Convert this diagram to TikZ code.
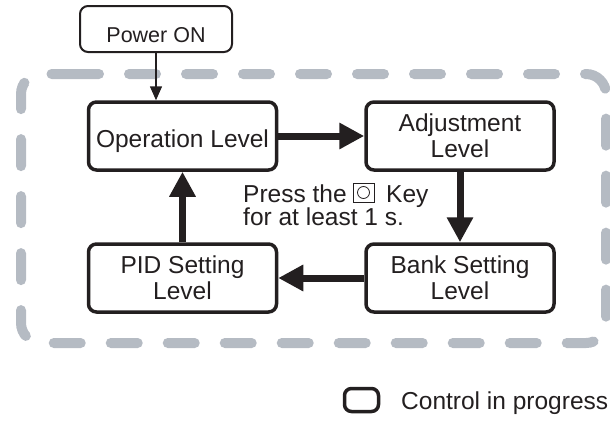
\documentclass[tikz,border=0pt]{standalone}
\usepackage{fontspec}
\setmainfont{Liberation Sans}
\usetikzlibrary{arrows.meta}
\definecolor{framegray}{RGB}{181,187,195}
\definecolor{ink}{RGB}{35,31,32}
\begin{document}
\begin{tikzpicture}[x=1pt,y=-1pt,
  lvl/.style={draw=ink, line width=3.5pt, rounded corners=8pt,
    minimum width=188pt, minimum height=68pt, align=center, inner sep=0pt,
    text=ink, font=\fontsize{24.5}{26}\selectfont},
  startbox/.style={draw=ink, line width=2pt, rounded corners=8pt,
    minimum width=152pt, minimum height=46pt, inner sep=0pt,
    text=ink, font=\fontsize{21.5}{24}\selectfont},
  plain/.style={inner sep=0pt, text=ink, font=\fontsize{24.5}{26}\selectfont},
  thick arrow/.style={draw=ink, line width=7pt, -{Triangle[length=25pt,width=25pt]}},
  thin arrow/.style={draw=ink, line width=1.5pt, -{Triangle[length=14pt,width=12pt]}},
  groupframe/.style={draw=framegray, line width=10pt, line cap=round,
    dash pattern=on 27pt off 30pt, rounded corners=20pt}
]
\useasboundingbox (0,0) rectangle (610,423);

% dashed group frame
\draw[groupframe] (72,74) -- (606,74) -- (606,343) -- (21,343) -- (21,74) -- (72,74);

% nodes
\node[startbox, text height=26pt, text depth=0pt] (power) at (156,29) {Power ON};
\node[lvl, text height=22pt, text depth=0pt] (op) at (182.5,136) {Operation Level};
\node[lvl] (adj) at (460,136) {Adjustment\\Level};
\node[lvl] (pid) at (182.5,278) {PID Setting\\Level};
\node[lvl] (bank) at (460,278) {Bank Setting\\Level};

% connectors
\draw[thin arrow] (power) -- (op.north -| power);
\draw[thick arrow] (op) -- (adj);
\draw[thick arrow] (adj) -- (bank);
\draw[thick arrow] (bank) -- (pid);
\draw[thick arrow] (pid) -- (op);

% press-key note
\node[plain, anchor=base west] (press) at (243,202) {Press the};
\node[draw=ink, line width=0.8pt, minimum width=21pt, minimum height=19pt, inner sep=0pt] (keybox) at (363.5,192.5) {};
\node[draw=ink, line width=0.8pt, circle, minimum size=12pt, inner sep=0pt] (keycircle) at (keybox.center) {};
\node[plain, anchor=base west] (keyword) at (386,202) {Key};
\node[plain, anchor=base west] (press2) at (243,225) {for at least 1 s.};

% legend
\node[draw=ink, line width=3.5pt, rounded corners=7pt, minimum width=34pt, minimum height=23pt, inner sep=0pt] (legendbox) at (361.5,400) {};
\node[plain, anchor=base west] (legendtext) at (401,409) {Control in progress};
\end{tikzpicture}
\end{document}
